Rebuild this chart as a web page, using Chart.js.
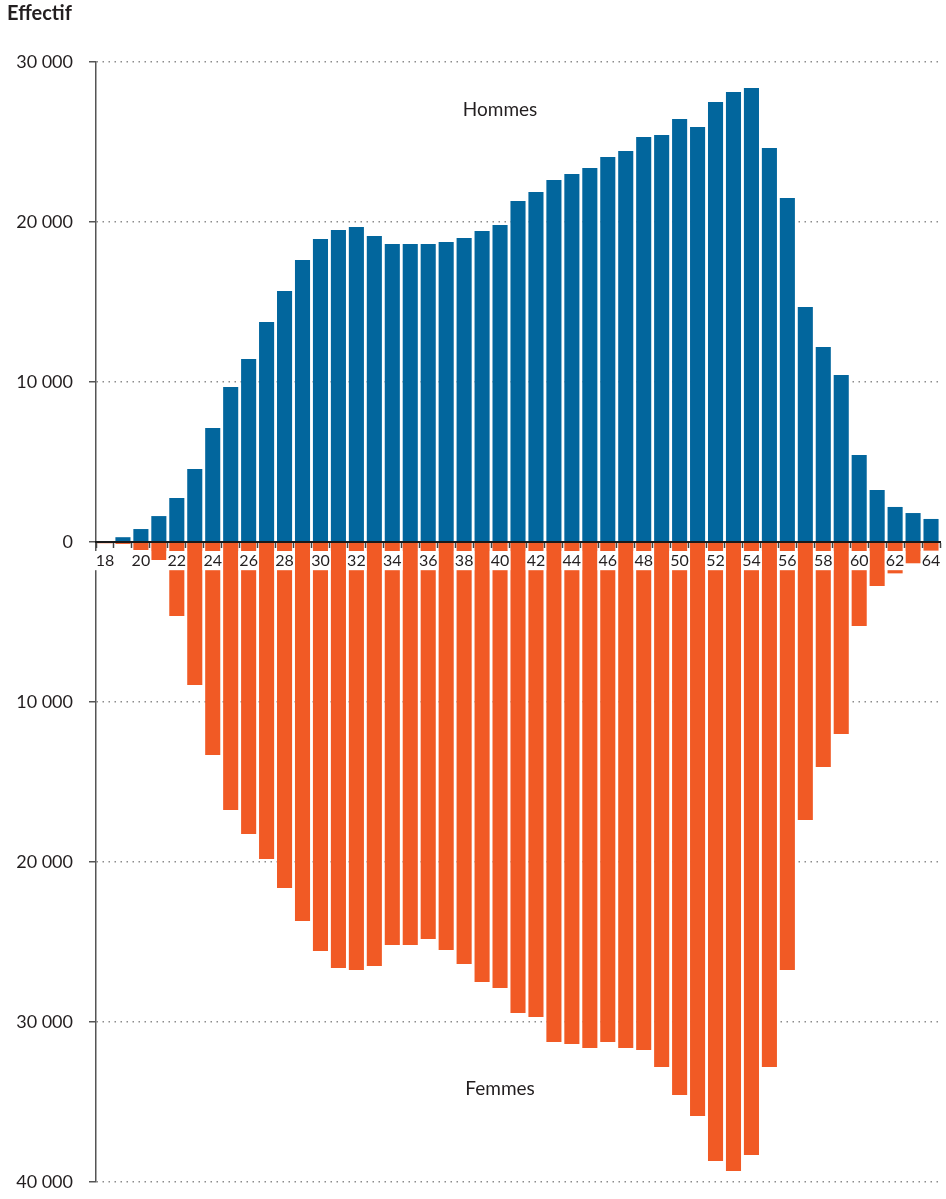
<!DOCTYPE html>
<html>
<head>
<meta charset="utf-8">
<script src="https://cdn.jsdelivr.net/npm/chart.js@4.4.1/dist/chart.umd.min.js"></script>
<style>
html,body{margin:0;padding:0;background:#fff}
canvas{display:block}
</style>
</head>
<body>
<canvas id="c" width="946" height="1199"></canvas>
<script>
// ---- Data ----
const ages = [18,19,20,21,22,23,24,25,26,27,28,29,30,31,32,33,34,35,36,37,38,39,40,41,42,43,44,45,46,47,48,49,50,51,52,53,54,55,56,57,58,59,60,61,62,63,64];
const hommes = [10,300,810,1620,2750,4560,7125,9690,11440,13750,15690,17625,18940,19500,19690,19125,18625,18625,18625,18750,19000,19440,19810,21310,21875,22625,23000,23375,24060,24440,25310,25440,26440,25940,27500,28125,28375,24625,21500,14690,12190,10440,5440,3250,2190,1810,1440];
const femmes = [80,120,500,1125,4625,8940,13310,16750,18250,19810,21625,23690,25560,26625,26750,26500,25190,25190,24810,25500,26375,27500,27875,29440,29690,31250,31375,31625,31250,31625,31750,32810,34560,35875,38690,39310,38310,32810,26750,17375,14060,12000,5250,2750,1960,1330,540];
const yTickValues = [30000,20000,10000,0,-10000,-20000,-30000,-40000];
const seriesNames = ['Hommes','Femmes'];
const axisTitle = 'Effectif';
// annotation anchors (data space)
const annotAge = 40;
const hommesAnnotValue = 27000;
const femmesAnnotValue = -34200;

const BLUE = '#02669d';
const ORANGE = '#f15a25';
const TEXT = '#231f20';
const FONT = 'Lato, "Open Sans", sans-serif';

function fmt(n){ return String(n).replace(/\B(?=(\d{3})+(?!\d))/g, ' '); }

const annotPlugin = {
  id: 'annot',
  afterDraw(chart){
    const {ctx, scales:{x, y}} = chart;
    ctx.save();
    ctx.fillStyle = TEXT;
    ctx.textAlign = 'center';
    ctx.textBaseline = 'middle';
    ctx.font = '19px ' + FONT;
    const xi = x.getPixelForValue(ages.indexOf(annotAge));
    ctx.fillText(seriesNames[0], xi, y.getPixelForValue(hommesAnnotValue));
    ctx.fillText(seriesNames[1], xi, y.getPixelForValue(femmesAnnotValue));
    ctx.font = 'bold 20px ' + FONT;
    ctx.textAlign = 'left';
    ctx.fillText(axisTitle, 7, 14);
    ctx.restore();
  }
};

function draw(){
  new Chart(document.getElementById('c'), {
    type: 'bar',
    data: {
      labels: ages.map(String),
      datasets: [
        {label: seriesNames[0], data: hommes, backgroundColor: BLUE, grouped: false, barPercentage: 0.84, categoryPercentage: 1},
        {label: seriesNames[1], data: femmes.map(v => -v), backgroundColor: ORANGE, grouped: false, barPercentage: 0.84, categoryPercentage: 1}
      ]
    },
    options: {
      responsive: false,
      animation: false,
      devicePixelRatio: 1,
      layout: {padding: {top: 62, right: 6, bottom: 17, left: 0}},
      plugins: {legend: {display: false}, tooltip: {enabled: false}, title: {display: false}},
      scales: {
        x: {
          position: {y: 0},
          offset: true,
          grid: {offset: true, drawOnChartArea: false, drawTicks: true, tickLength: 5, tickColor: '#444', tickWidth: 1.5, z: 1},
          border: {display: true, color: '#1a1a1a', width: 2, z: 1},
          ticks: {
            z: 1, autoSkip: false, maxRotation: 0, minRotation: 0, padding: 4,
            color: TEXT, font: {family: FONT, size: 16},
            callback: (v, i) => (i % 2 === 0 ? String(ages[i]) : ''),
            showLabelBackdrop: (c) => c.index % 2 === 0,
            backdropColor: '#ffffff',
            backdropPadding: {top: 0, bottom: 0, left: 1, right: 1}
          }
        },
        y: {
          min: -40000, max: 30000,
          afterFit: (s) => { s.width = 96; s.paddingTop = 0; s.paddingBottom = 0; },
          afterBuildTicks: (s) => { s.ticks = yTickValues.map(v => ({value: v})); },
          grid: {color: '#8c8c8c', lineWidth: 1.5, drawTicks: true, tickLength: 7, tickColor: '#555', tickWidth: 1.5},
          border: {display: true, color: '#555', width: 1.5, dash: [1.5, 4.5]},
          ticks: {padding: 16, color: TEXT, font: {family: FONT, size: 18}, callback: (v) => fmt(Math.abs(v))}
        }
      }
    },
    plugins: [annotPlugin]
  });
}

if (document.fonts && document.fonts.load) {
  Promise.all([document.fonts.load('16px Lato'), document.fonts.load('bold 20px Lato')]).then(draw, draw);
} else { draw(); }
</script>
</body>
</html>
